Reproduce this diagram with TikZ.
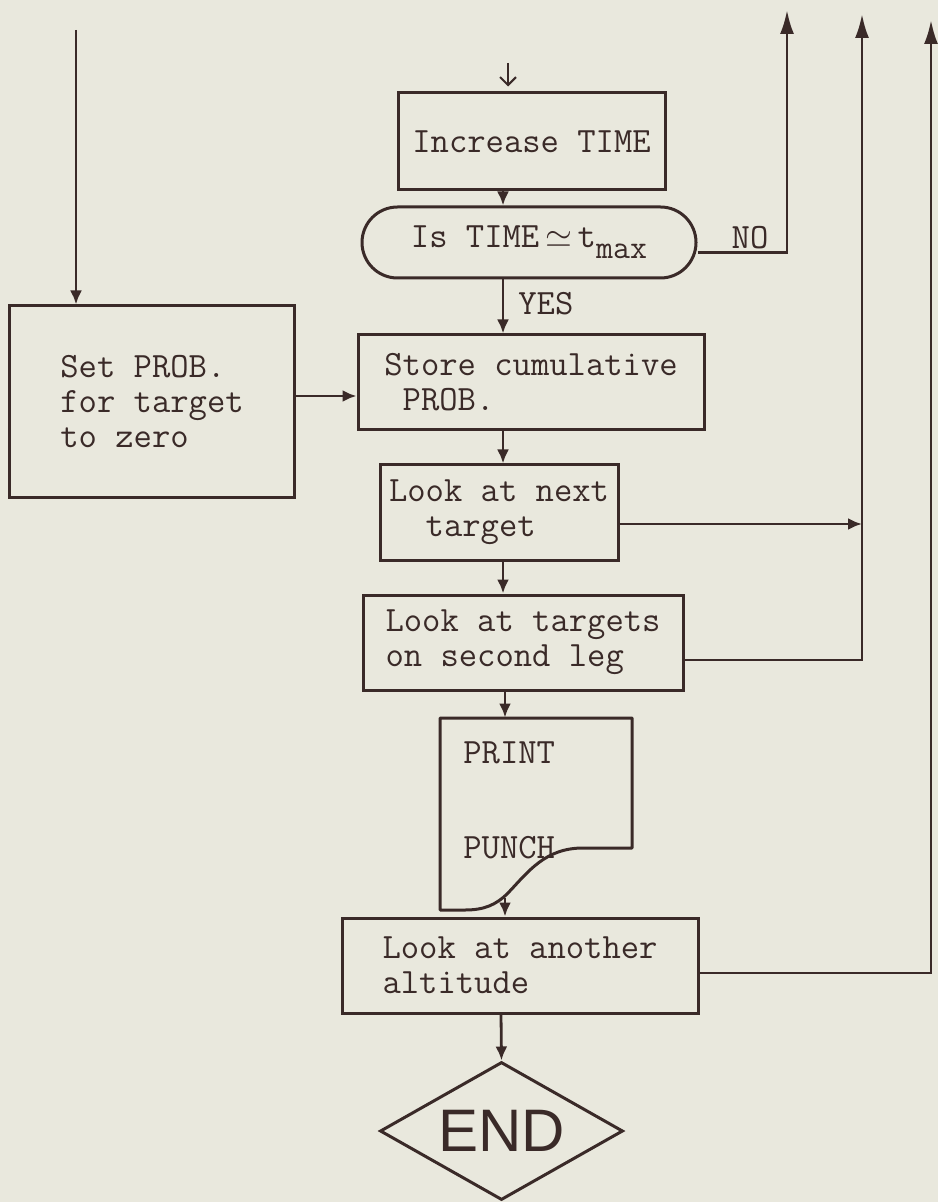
\documentclass[tikz,border=0pt]{standalone}
\usepackage{fontspec}
\setmainfont{Liberation Serif}
\newfontfamily\endfont{Liberation Sans}
\usetikzlibrary{arrows.meta,shapes.geometric,shapes.misc,calc}
\definecolor{ink}{RGB}{58,42,40}
\definecolor{paper}{RGB}{233,232,221}
\newcommand{\tw}[1]{\ttfamily\fontsize{17.8pt}{#1}\selectfont}

\begin{document}
\begin{tikzpicture}[x=0.5pt,y=-0.5pt,
  box/.style={draw=ink, line width=1.5pt, inner sep=0pt, align=left, text=ink},
  arr/.style={draw=ink, line width=1.4pt, -{Latex[length=7pt,width=6pt]}},
  uparr/.style={draw=ink, line width=1.4pt, -{Latex[length=12pt,width=7pt]}},
  lbl/.style={text=ink, inner sep=0pt},
]
\fill[paper] (0,0) rectangle (938,1202);
\useasboundingbox (0,0) rectangle (938,1202);

% helper coordinates
\coordinate (lefttop) at (76,30);
\coordinate (spine) at (503,0);
\coordinate (spineb) at (505,0);
\coordinate (spinec) at (501,0);
\coordinate (rowA) at (0,396);
\coordinate (rowB) at (0,524);
\coordinate (rowC) at (0,660);
\coordinate (rowD) at (0,973);
\coordinate (topin) at (508,63);
\coordinate (topNO) at (787,10);
\coordinate (topB) at (862,14);
\coordinate (topC) at (931,20);
\coordinate (docbot) at (505,898);

% nodes
\node[box, minimum width=142.5pt, minimum height=95.5pt, font=\tw{17.5pt}] (setp) at (152,401.5) {Set PROB.\\for target\\to zero};
\node[box, minimum width=133.5pt, minimum height=48.5pt, font=\tw{17.5pt}] (inc) at (531.5,141.5) {Increase TIME};
\node[box, rounded rectangle, minimum width=167pt, minimum height=35.5pt, font=\tw{17.5pt}] (dec) at (529,242.5) {Is TIME$\,\simeq\,$t\raisebox{-0.3em}{\fontsize{16.5pt}{16.5pt}\selectfont max}};
\node[box, minimum width=173pt, minimum height=47.5pt, font=\tw{17.5pt}] (store) at (531,382.5) {Store cumulative\\\phantom{S}PROB.};
\node[box, minimum width=119pt, minimum height=47.5pt, font=\tw{17.5pt}] (next) at (499,512.5) {Look at next\\\phantom{Lo}target};
\node[box, minimum width=160pt, minimum height=47.5pt, font=\tw{17.5pt}] (targ) at (523,642.5) {Look at targets\\on second leg};
\node[minimum width=96pt, minimum height=96pt, inner sep=0pt] (doc) at (536,814) {};
\draw[ink, line width=1.5pt, line join=round] (440,718) -- (632,718) -- (632,848) -- (583,848)
  .. controls (545,848) and (528,872) .. (508,893)
  .. controls (496,905) and (484,910) .. (465,910) -- (440,910) -- cycle;
\node[lbl, anchor=west, align=left, font=\tw{47.5pt}] (doctext) at (463,800) {PRINT\\PUNCH};
\node[box, minimum width=178pt, minimum height=47.5pt, font=\tw{17.5pt}] (alt) at (520,965.5) {Look at another\\altitude};
\node[draw=ink, line width=1.5pt, diamond, aspect=1.76, minimum width=121.5pt, minimum height=69pt, inner sep=0pt, text=ink, font=\endfont\fontsize{30pt}{30pt}\selectfont] (endd) at (501.5,1131) {END};

% labels
\node[lbl, anchor=west, font=\tw{17.5pt}] (yes) at (518,304) {YES};
\node[lbl, font=\tw{17.5pt}] (no) at (750,238) {NO};

% connectors
\draw[ink, line width=1pt, -{Straight Barb[length=4pt,width=8pt]}, shorten >=2.5pt] (topin) -- (inc.north -| topin);
\draw[arr] (lefttop) -- (lefttop |- setp.north);
\draw[arr] (inc.south -| spine) -- (dec.north -| spine);
\draw[arr] (dec.south -| spine) -- (store.north -| spine);
\draw[arr] (setp.east |- rowA) -- (store.west |- rowA);
\draw[arr] (store.south -| spine) -- (next.north -| spine);
\draw[arr] (next.south -| spine) -- (targ.north -| spine);
\draw[arr] (targ.south -| spineb) -- (doc.north -| spineb);
\draw[arr] (docbot) -- (alt.north -| docbot);
\draw[arr] (alt.south -| spinec) -- (endd.north);
\draw[uparr] ($(dec.east)+(0,10)$) -| (topNO);
\draw[arr] (next.east |- rowB) -- (rowB -| topB);
\draw[uparr] (targ.east |- rowC) -| (topB);
\draw[uparr] (alt.east |- rowD) -| (topC);
\end{tikzpicture}
\end{document}
